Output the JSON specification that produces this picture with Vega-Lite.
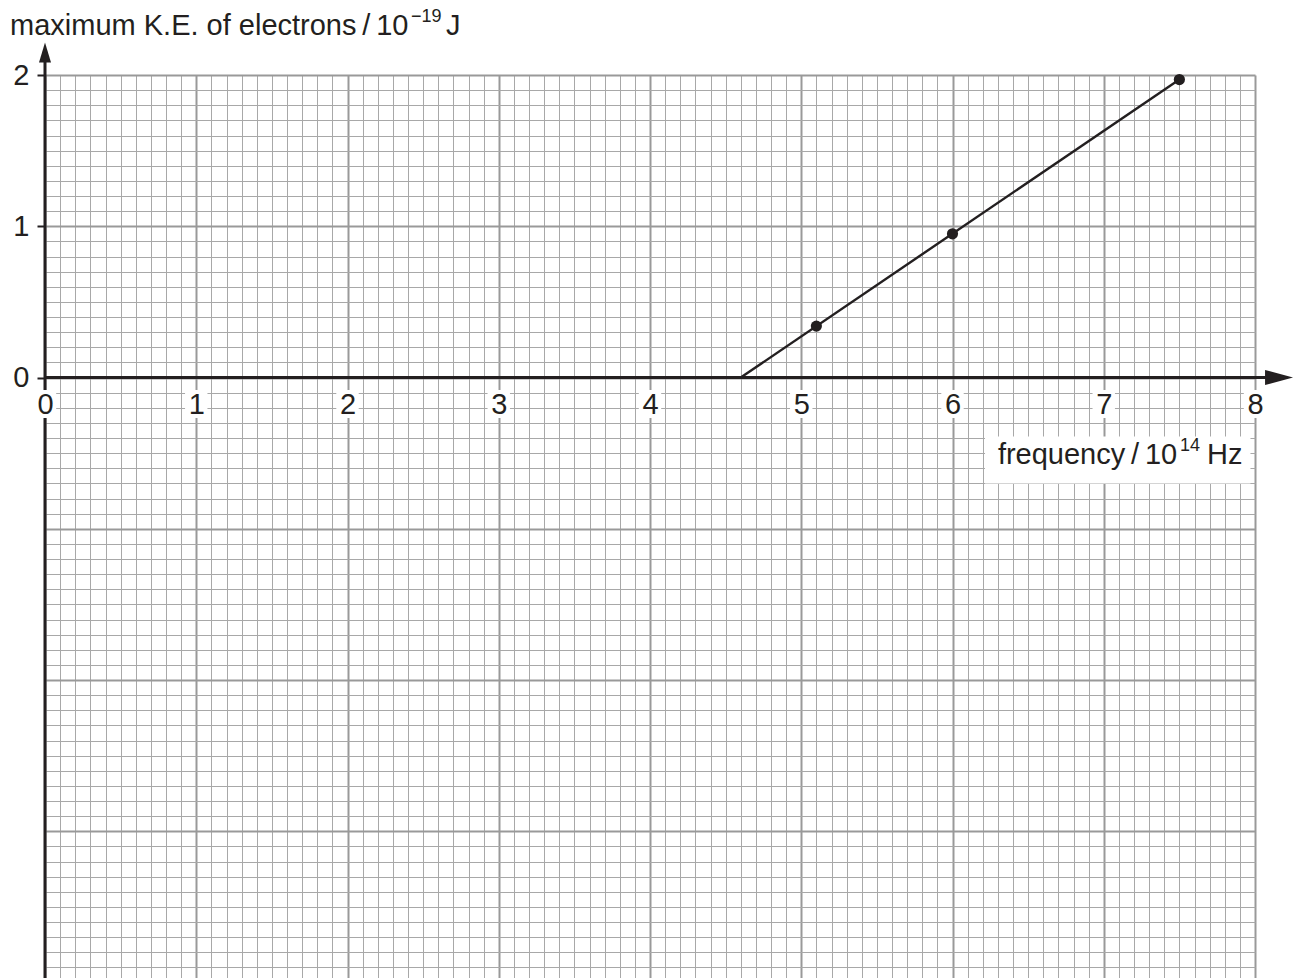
{
  "$schema": "https://vega.github.io/schema/vega-lite/v6.json",
  "width": 1210,
  "height": 903,
  "autosize": {"type": "none"},
  "padding": {"left": 45, "top": 75, "right": 43, "bottom": 0},
  "background": "#ffffff",
  "config": {"view": {"stroke": null}, "font": "Liberation Sans"},
  "datasets": {
    "measurements": [
      {"frequency": 5.1, "ke": 0.34},
      {"frequency": 6.0, "ke": 0.95},
      {"frequency": 7.5, "ke": 1.97}
    ],
    "fit": [
      {"frequency": 4.6, "ke": 0},
      {"frequency": 7.5, "ke": 1.97}
    ],
    "ticks": [{"v": 0}, {"v": 1}, {"v": 2}, {"v": 3}, {"v": 4}, {"v": 5}, {"v": 6}, {"v": 7}, {"v": 8}],
    "one": [{}]
  },
  "resolve": {"axis": {"x": "independent", "y": "independent"}},
  "layer": [
    {
      "data": {"name": "ticks"},
      "mark": {"type": "point", "opacity": 0},
      "encoding": {
        "x": {
          "field": "v", "type": "quantitative",
          "scale": {"domain": [0, 8], "nice": false, "zero": false},
          "axis": {
            "orient": "bottom", "grid": true, "labels": false, "ticks": false, "domain": false, "title": null, "zindex": 0,
            "values": [0,0.1,0.2,0.3,0.4,0.5,0.6,0.7,0.8,0.9,1,1.1,1.2,1.3,1.4,1.5,1.6,1.7,1.8,1.9,2,2.1,2.2,2.3,2.4,2.5,2.6,2.7,2.8,2.9,3,3.1,3.2,3.3,3.4,3.5,3.6,3.7,3.8,3.9,4,4.1,4.2,4.3,4.4,4.5,4.6,4.7,4.8,4.9,5,5.1,5.2,5.3,5.4,5.5,5.6,5.7,5.8,5.9,6,6.1,6.2,6.3,6.4,6.5,6.6,6.7,6.8,6.9,7,7.1,7.2,7.3,7.4,7.5,7.6,7.7,7.8,7.9,8],
            "gridColor": {"condition": {"test": "abs(datum.value - round(datum.value)) < 0.001", "value": "#999999"}, "value": "#a8a8a8"},
            "gridWidth": {"condition": {"test": "abs(datum.value - round(datum.value)) < 0.001", "value": 2}, "value": 1}
          }
        },
        "y": {
          "datum": 0, "type": "quantitative",
          "scale": {"domain": [-3.97, 2], "nice": false, "zero": false},
          "axis": {
            "orient": "left", "grid": true, "labels": false, "ticks": false, "domain": false, "title": null, "zindex": 0,
            "values": [-3.9,-3.8,-3.7,-3.6,-3.5,-3.4,-3.3,-3.2,-3.1,-3,-2.9,-2.8,-2.7,-2.6,-2.5,-2.4,-2.3,-2.2,-2.1,-2,-1.9,-1.8,-1.7,-1.6,-1.5,-1.4,-1.3,-1.2,-1.1,-1,-0.9,-0.8,-0.7,-0.6,-0.5,-0.4,-0.3,-0.2,-0.1,0,0.1,0.2,0.3,0.4,0.5,0.6,0.7,0.8,0.9,1,1.1,1.2,1.3,1.4,1.5,1.6,1.7,1.8,1.9,2],
            "gridColor": {"condition": {"test": "abs(datum.value - round(datum.value)) < 0.001", "value": "#999999"}, "value": "#a8a8a8"},
            "gridWidth": {"condition": {"test": "abs(datum.value - round(datum.value)) < 0.001", "value": 2}, "value": 1}
          }
        }
      }
    },
    {
      "data": {"name": "one"},
      "mark": {"type": "rule", "color": "#231f20", "strokeWidth": 3},
      "encoding": {
        "x": {"datum": 0, "type": "quantitative", "scale": {"domain": [0, 8], "nice": false, "zero": false}, "axis": null},
        "y": {"datum": -3.97, "type": "quantitative", "scale": {"domain": [-3.97, 2], "nice": false, "zero": false}, "axis": null},
        "y2": {"datum": 2.15}
      }
    },
    {
      "data": {"name": "one"},
      "mark": {"type": "rule", "color": "#231f20", "strokeWidth": 3},
      "encoding": {
        "x": {"datum": 0, "type": "quantitative", "scale": {"domain": [0, 8], "nice": false, "zero": false}, "axis": null},
        "x2": {"datum": 8.16},
        "y": {"datum": 0, "type": "quantitative", "scale": {"domain": [-3.97, 2], "nice": false, "zero": false}, "axis": null}
      }
    },
    {
      "data": {"name": "ticks"},
      "mark": {"type": "point", "shape": "M-0.8,-1L0.8,-1L0.8,1L-0.8,1Z", "filled": true, "color": "#ffffff", "opacity": 1, "size": 784},
      "encoding": {
        "x": {"field": "v", "type": "quantitative", "scale": {"domain": [0, 8], "nice": false, "zero": false}, "axis": null},
        "y": {"datum": -0.175, "type": "quantitative", "scale": {"domain": [-3.97, 2], "nice": false, "zero": false}, "axis": null}
      }
    },
    {
      "data": {"name": "one"},
      "mark": {"type": "rect", "color": "#ffffff"},
      "encoding": {
        "x": {"datum": 6.215, "type": "quantitative", "scale": {"domain": [0, 8], "nice": false, "zero": false}, "axis": null},
        "x2": {"datum": 7.97},
        "y": {"datum": -0.39, "type": "quantitative", "scale": {"domain": [-3.97, 2], "nice": false, "zero": false}, "axis": null},
        "y2": {"datum": -0.7}
      }
    },
    {
      "data": {"name": "fit"},
      "mark": {"type": "line", "color": "#231f20", "strokeWidth": 2.4},
      "encoding": {
        "x": {"field": "frequency", "type": "quantitative", "scale": {"domain": [0, 8], "nice": false, "zero": false}, "axis": null},
        "y": {"field": "ke", "type": "quantitative", "scale": {"domain": [-3.97, 2], "nice": false, "zero": false}, "axis": null}
      }
    },
    {
      "data": {"name": "measurements"},
      "mark": {"type": "point", "shape": "circle", "filled": true, "color": "#231f20", "opacity": 1, "size": 125},
      "encoding": {
        "x": {"field": "frequency", "type": "quantitative", "scale": {"domain": [0, 8], "nice": false, "zero": false}, "axis": null},
        "y": {"field": "ke", "type": "quantitative", "scale": {"domain": [-3.97, 2], "nice": false, "zero": false}, "axis": null}
      }
    },
    {
      "data": {"name": "one"},
      "mark": {"type": "point", "shape": "M0,-1L0.6,1L-0.6,1Z", "filled": true, "color": "#231f20", "opacity": 1, "size": 400},
      "encoding": {
        "x": {"datum": 0, "type": "quantitative", "scale": {"domain": [0, 8], "nice": false, "zero": false}, "axis": null},
        "y": {"datum": 2.149, "type": "quantitative", "scale": {"domain": [-3.97, 2], "nice": false, "zero": false}, "axis": null}
      }
    },
    {
      "data": {"name": "one"},
      "mark": {"type": "point", "shape": "M1,0L-1,0.54L-1,-0.54Z", "filled": true, "color": "#231f20", "opacity": 1, "size": 784},
      "encoding": {
        "x": {"datum": 8.159, "type": "quantitative", "scale": {"domain": [0, 8], "nice": false, "zero": false}, "axis": null},
        "y": {"datum": 0, "type": "quantitative", "scale": {"domain": [-3.97, 2], "nice": false, "zero": false}, "axis": null}
      }
    },
    {
      "data": {"name": "one"},
      "mark": {"type": "text", "text": "maximum K.E. of electrons\u2009/\u200910", "align": "left", "baseline": "alphabetic", "fontSize": 29, "color": "#231f20", "font": "Liberation Sans"},
      "encoding": {
        "x": {"datum": -0.2314, "type": "quantitative", "scale": {"domain": [0, 8], "nice": false, "zero": false}, "axis": null},
        "y": {"datum": 2.2645, "type": "quantitative", "scale": {"domain": [-3.97, 2], "nice": false, "zero": false}, "axis": null}
      }
    },
    {
      "data": {"name": "one"},
      "mark": {"type": "text", "text": "\u221219", "align": "left", "baseline": "alphabetic", "fontSize": 18, "dy": -13, "color": "#231f20", "font": "Liberation Sans"},
      "encoding": {
        "x": {"datum": 2.4198, "type": "quantitative", "scale": {"domain": [0, 8], "nice": false, "zero": false}, "axis": null},
        "y": {"datum": 2.2645, "type": "quantitative", "scale": {"domain": [-3.97, 2], "nice": false, "zero": false}, "axis": null}
      }
    },
    {
      "data": {"name": "one"},
      "mark": {"type": "text", "text": "J", "align": "left", "baseline": "alphabetic", "fontSize": 29, "color": "#231f20", "font": "Liberation Sans"},
      "encoding": {
        "x": {"datum": 2.6512, "type": "quantitative", "scale": {"domain": [0, 8], "nice": false, "zero": false}, "axis": null},
        "y": {"datum": 2.2645, "type": "quantitative", "scale": {"domain": [-3.97, 2], "nice": false, "zero": false}, "axis": null}
      }
    },
    {
      "data": {"name": "one"},
      "mark": {"type": "text", "text": "frequency\u2009/\u200910", "align": "left", "baseline": "alphabetic", "fontSize": 29, "color": "#231f20", "font": "Liberation Sans"},
      "encoding": {
        "x": {"datum": 6.3, "type": "quantitative", "scale": {"domain": [0, 8], "nice": false, "zero": false}, "axis": null},
        "y": {"datum": -0.569, "type": "quantitative", "scale": {"domain": [-3.97, 2], "nice": false, "zero": false}, "axis": null}
      }
    },
    {
      "data": {"name": "one"},
      "mark": {"type": "text", "text": "14", "align": "left", "baseline": "alphabetic", "fontSize": 18, "dy": -13, "color": "#231f20", "font": "Liberation Sans"},
      "encoding": {
        "x": {"datum": 7.5034, "type": "quantitative", "scale": {"domain": [0, 8], "nice": false, "zero": false}, "axis": null},
        "y": {"datum": -0.569, "type": "quantitative", "scale": {"domain": [-3.97, 2], "nice": false, "zero": false}, "axis": null}
      }
    },
    {
      "data": {"name": "one"},
      "mark": {"type": "text", "text": "Hz", "align": "left", "baseline": "alphabetic", "fontSize": 29, "color": "#231f20", "font": "Liberation Sans"},
      "encoding": {
        "x": {"datum": 7.6826, "type": "quantitative", "scale": {"domain": [0, 8], "nice": false, "zero": false}, "axis": null},
        "y": {"datum": -0.569, "type": "quantitative", "scale": {"domain": [-3.97, 2], "nice": false, "zero": false}, "axis": null}
      }
    },
    {
      "data": {"name": "ticks"},
      "mark": {"type": "point", "opacity": 0},
      "encoding": {
        "x": {
          "field": "v", "type": "quantitative",
          "scale": {"domain": [0, 8], "nice": false, "zero": false},
          "axis": {
            "orient": "bottom", "offset": -600.49, "values": [0,1,2,3,4,5,6,7,8], "grid": false, "domain": false,
            "ticks": true, "tickSize": 0, "tickOpacity": 0, "labelPadding": 13, "labelFontSize": 29, "labelColor": "#231f20",
            "labelFont": "Liberation Sans", "labelFlush": false, "labelOverlap": false, "labelBound": false, "title": null, "zindex": 2, "format": "d"
          }
        },
        "y": {
          "datum": 0, "type": "quantitative",
          "scale": {"domain": [-3.97, 2], "nice": false, "zero": false},
          "axis": {
            "orient": "left", "values": [0, 1, 2], "grid": false, "domain": false,
            "ticks": true, "tickSize": 8, "tickWidth": 2, "tickColor": "#231f20", "labelPadding": 8, "labelFontSize": 29, "labelColor": "#231f20",
            "labelFont": "Liberation Sans", "labelFlush": false, "labelOverlap": false, "labelBound": false, "title": null, "zindex": 2, "format": "d"
          }
        }
      }
    }
  ]
}
